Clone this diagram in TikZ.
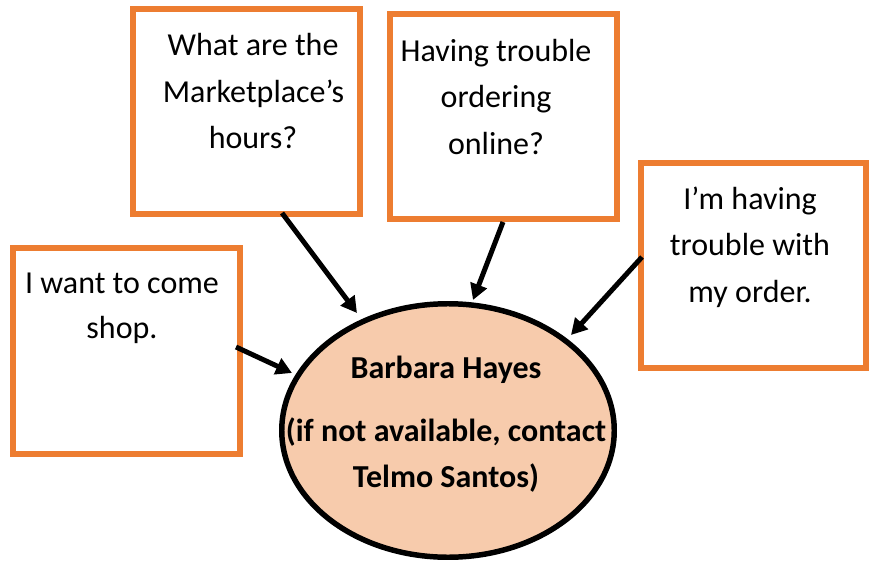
\documentclass[tikz,border=0pt]{standalone}
\usepackage{fontspec}
\setmainfont{Carlito}
\usetikzlibrary{shapes.geometric,arrows.meta}
\definecolor{boxorange}{RGB}{237,125,49}
\definecolor{ellfill}{RGB}{247,203,172}
\tikzset{
  qbox/.style={draw=boxorange,line width=5.7pt,fill=white,minimum width=#1,inner sep=0pt,outer sep=0pt,anchor=north west},
  txt/.style={font=\fontsize{32bp}{34bp}\selectfont,inner sep=0pt,anchor=base,text=black},
  btxt/.style={font=\bfseries\fontsize{32bp}{34bp}\selectfont,inner sep=0pt,anchor=base,text=black},
  conn/.style={draw=black,line width=5pt,-{Stealth[length=16pt,width=17pt,inset=0pt]}}
}
\begin{document}
\begin{tikzpicture}[x=1bp,y=-1bp]
\useasboundingbox (0,0) rectangle (869,561);
\fill[white] (0,0) rectangle (869,561);
\node[qbox=227bp,minimum height=205bp] (q1) at (133,9) {};
\node[qbox=227bp,minimum height=205bp] (q2) at (390,14) {};
\node[qbox=225bp,minimum height=205bp] (q3) at (641,163) {};
\node[qbox=227bp,minimum height=206bp] (q4) at (13,248) {};
\node[draw=black,line width=5.5pt,fill=ellfill,ellipse,minimum width=332.5bp,minimum height=253.5bp,inner sep=0pt,outer sep=0pt] (e) at (448,430.5) {};
\node[txt] (t1a) at (253,56) {What are the};
\node[txt] (t1b) at (253.5,103) {Marketplace’s};
\node[txt] (t1c) at (253,149) {hours?};
\node[txt] (t2a) at (496,62) {Having trouble};
\node[txt] (t2b) at (496,108) {ordering};
\node[txt] (t2c) at (496,155) {online?};
\node[txt] (t3a) at (750,210) {I’m having};
\node[txt] (t3b) at (750,256) {trouble with};
\node[txt] (t3c) at (750,303) {my order.};
\node[txt] (t4a) at (122,294) {I want to come};
\node[txt] (t4b) at (122,339) {shop.};
\node[btxt] (e1) at (446,378) {Barbara Hayes};
\node[btxt] (e2) at (446,441) {(if not available, contact};
\node[btxt] (e3) at (446,487) {Telmo Santos)};
\coordinate (c1s) at (282,213);
\coordinate (c1e) at (357,313);
\coordinate (c2s) at (503,222);
\coordinate (c2e) at (473,300);
\coordinate (c3s) at (642,257);
\coordinate (c3e) at (571,335);
\coordinate (c4s) at (236,347);
\coordinate (c4e) at (292,373);
\draw[conn] (c1s) -- (c1e);
\draw[conn] (c2s) -- (c2e);
\draw[conn] (c3s) -- (c3e);
\draw[conn] (c4s) -- (c4e);
\end{tikzpicture}
\end{document}
